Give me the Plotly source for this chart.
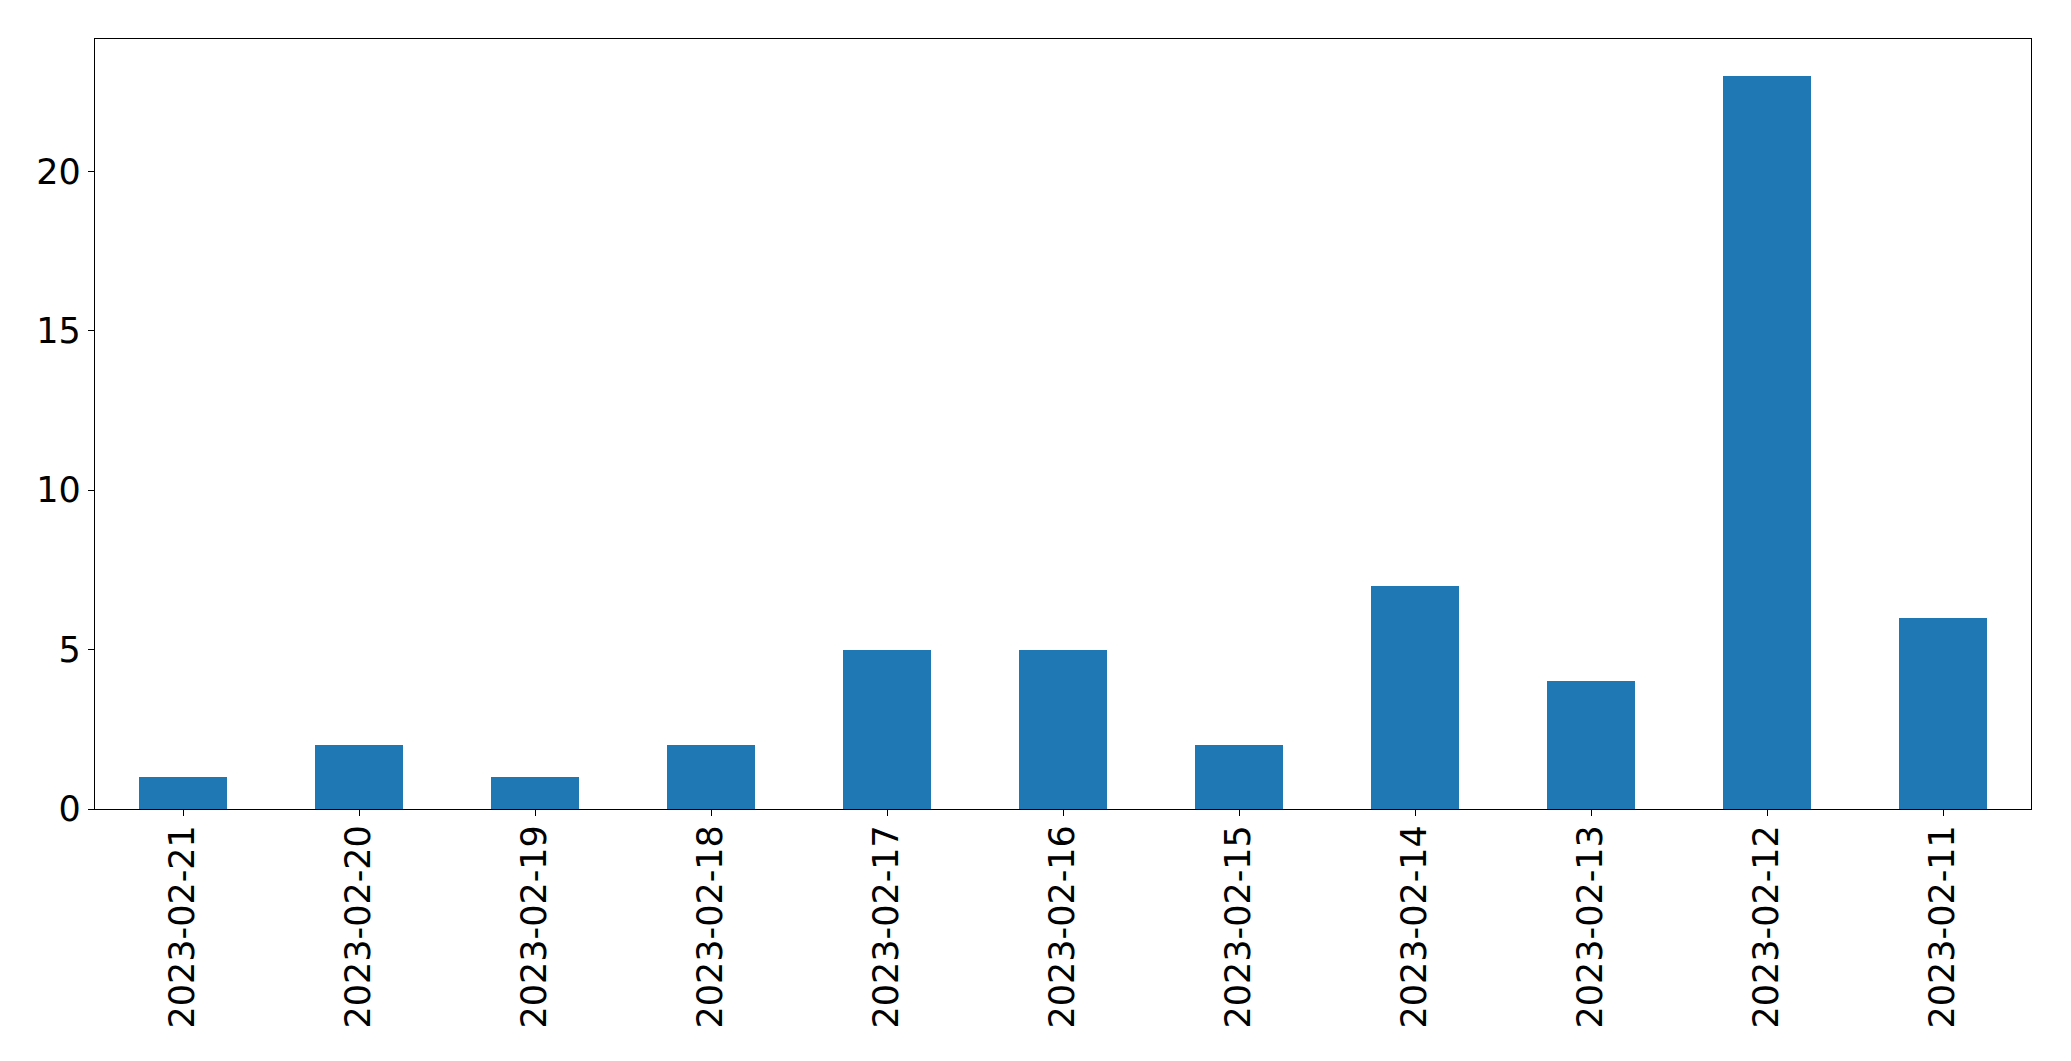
import plotly.graph_objects as go

dates = ["2023-02-21", "2023-02-20", "2023-02-19", "2023-02-18", "2023-02-17",
         "2023-02-16", "2023-02-15", "2023-02-14", "2023-02-13", "2023-02-12",
         "2023-02-11"]
counts = [1, 2, 1, 2, 5, 5, 2, 7, 4, 23, 6]
y_ticks = [0, 5, 10, 15, 20]

fig = go.Figure(go.Bar(x=list(range(len(dates))), y=counts, width=0.5,
                       marker=dict(color="#1f77b4", line=dict(width=0))))

font = dict(family="DejaVu Sans", size=35, color="black")
fig.update_layout(
    width=2055, height=1045,
    margin=dict(l=87, r=32, t=31, b=244, autoexpand=False),
    plot_bgcolor="white", paper_bgcolor="white",
    showlegend=False, bargap=0,
)
fig.update_xaxes(
    range=[-0.5, len(dates) - 0.5],
    tickmode="array", tickvals=list(range(len(dates))), ticktext=dates,
    tickangle=-90, tickfont=font,
    showline=True, linecolor="black", linewidth=1.3, mirror=True,
    ticks="outside", ticklen=6, tickwidth=1.3, tickcolor="black",
    showgrid=False, zeroline=False, ticklabelstandoff=-5,
)
fig.update_yaxes(
    range=[0, max(counts) * 1.05],
    tickmode="array", tickvals=y_ticks, ticktext=[str(v) for v in y_ticks],
    tickfont=font,
    showline=True, linecolor="black", linewidth=1.3, mirror=True,
    ticks="outside", ticklen=6, tickwidth=1.3, tickcolor="black",
    showgrid=False, zeroline=False, ticklabelstandoff=0,
)
fig.write_html("out.html")
